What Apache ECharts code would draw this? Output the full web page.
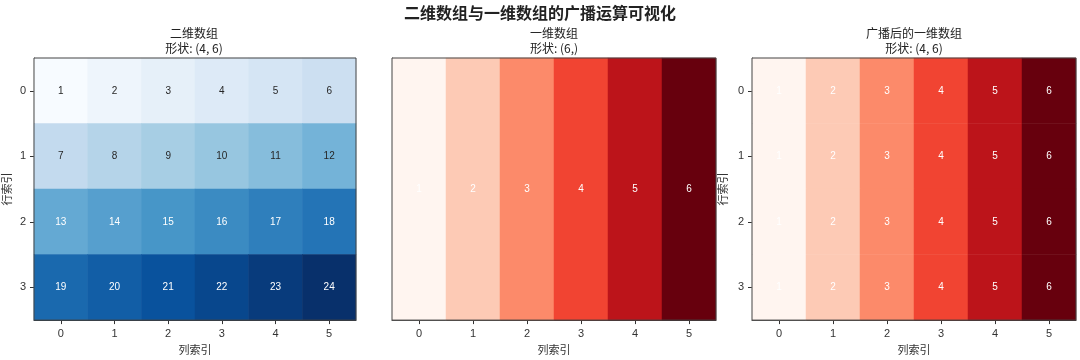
<!DOCTYPE html>
<html><head><meta charset="utf-8">
<script src="https://cdn.jsdelivr.net/npm/echarts@6/dist/echarts.min.js"></script>
<style>html,body{margin:0;padding:0;background:#fff}#c{width:1080px;height:360px}</style>
</head><body><div id="c"></div>
<script>
const colLabels = ['0','1','2','3','4','5'];
const rowLabels = ['0','1','2','3'];
const array2d = [
  [1, 2, 3, 4, 5, 6],
  [7, 8, 9, 10, 11, 12],
  [13, 14, 15, 16, 17, 18],
  [19, 20, 21, 22, 23, 24]
];
const array1d = [1, 2, 3, 4, 5, 6];
const broadcast = [
  [1, 2, 3, 4, 5, 6],
  [1, 2, 3, 4, 5, 6],
  [1, 2, 3, 4, 5, 6],
  [1, 2, 3, 4, 5, 6]
];
const titleLine1 = ['二维数组', '一维数组', '广播后的一维数组'];
const titleLine2 = ['形状: (4, 6)', '形状: (6,)', '形状: (4, 6)'];
const blues = ['#f7fbff','#deebf7','#c6dbef','#9ecae1','#6baed6','#4292c6','#2171b5','#08519c','#08306b'];
const reds = ['#fff5f0','#fee0d2','#fcbba1','#fc9272','#fb6a4a','#ef3b2c','#cb181d','#a50f15','#67000d'];

function cells(mat, darkBelow) {
  const out = [];
  mat.forEach((row, r) => row.forEach((v, c) => {
    out.push({value: [c, r, v], label: {color: v < darkBelow ? '#262626' : '#ffffff'}});
  }));
  return out;
}

const grids = [
  {left: 32, top: 58, width: 324, height: 268},
  {left: 392, top: 58, width: 324, height: 268},
  {left: 752, top: 58, width: 324, height: 268}
];
const axisLine = {show: true, lineStyle: {color: '#333', width: 1}};
const tickLabel = {color: '#333', fontSize: 11, fontFamily: 'Liberation Sans'};
const nameStyle = {color: '#333', fontSize: 11, fontFamily: 'Noto Sans CJK SC'};

const xAxes = grids.map((g, i) => ({
  type: 'category', gridIndex: i, data: colLabels, position: 'bottom',
  axisLine, axisTick: {show: true, alignWithLabel: true, length: 4, lineStyle: {color: '#333'}},
  axisLabel: Object.assign({margin: 8}, tickLabel),
  splitLine: {show: false}, splitArea: {show: false},
  name: '列索引', nameLocation: 'middle', nameGap: 23, nameTextStyle: nameStyle
}));
const yAxes = [
  {type: 'category', gridIndex: 0, data: rowLabels, inverse: true,
   axisLine, axisTick: {show: true, alignWithLabel: true, length: 4, lineStyle: {color: '#333'}},
   axisLabel: Object.assign({margin: 8}, tickLabel),
   name: '行索引', nameLocation: 'middle', nameGap: 22, nameRotate: 90, nameTextStyle: nameStyle},
  {type: 'category', gridIndex: 1, data: ['0'], inverse: true,
   axisLine, axisTick: {show: false}, axisLabel: {show: false}},
  {type: 'category', gridIndex: 2, data: rowLabels, inverse: true,
   axisLine, axisTick: {show: true, alignWithLabel: true, length: 4, lineStyle: {color: '#333'}},
   axisLabel: Object.assign({margin: 8}, tickLabel),
   name: '行索引', nameLocation: 'middle', nameGap: 24, nameRotate: 90, nameTextStyle: nameStyle}
];

const labelBase = {show: true, fontSize: 10, fontFamily: 'Liberation Sans', formatter: p => String(p.value[2])};
const subTitleStyle = {fontSize: 12, fontWeight: 'normal', color: '#222', fontFamily: 'Noto Sans CJK SC'};

const titles = [
  {text: '二维数组与一维数组的广播运算可视化', left: 'center', top: 0,
   textStyle: {fontSize: 16, fontWeight: 'bold', color: '#222', fontFamily: 'Noto Sans CJK SC'}}
];
grids.forEach((g, i) => {
  titles.push({text: titleLine1[i], left: g.left + g.width / 2, top: 27, textAlign: 'center', padding: 0, textStyle: subTitleStyle});
  titles.push({text: titleLine2[i], left: g.left + g.width / 2, top: 42, textAlign: 'center', padding: 0, textStyle: subTitleStyle});
});

const option = {
  backgroundColor: '#fff',
  animation: false,
  title: titles,
  grid: grids.map(g => Object.assign({show: true, z: 10, borderColor: '#444', borderWidth: 1, backgroundColor: 'transparent'}, g)),
  xAxis: xAxes,
  yAxis: yAxes,
  visualMap: [
    {show: false, type: 'continuous', seriesIndex: 0, min: 1, max: 24, dimension: 2, inRange: {color: blues}},
    {show: false, type: 'continuous', seriesIndex: [1, 2], min: 1, max: 6, dimension: 2, inRange: {color: reds}}
  ],
  series: [
    {type: 'heatmap', xAxisIndex: 0, yAxisIndex: 0, data: cells(array2d, 13), label: labelBase},
    {type: 'heatmap', xAxisIndex: 1, yAxisIndex: 1, data: cells([array1d], 0), label: labelBase},
    {type: 'heatmap', xAxisIndex: 2, yAxisIndex: 2, data: cells(broadcast, 0), label: labelBase}
  ]
};
echarts.init(document.getElementById('c')).setOption(option);
</script>
</body></html>
